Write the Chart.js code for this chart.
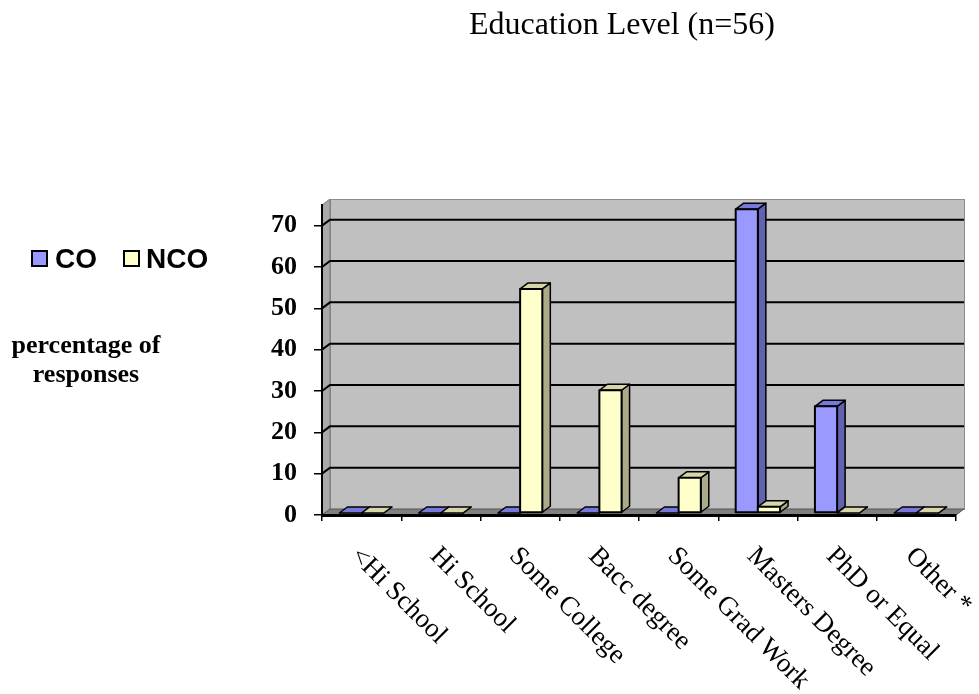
<!DOCTYPE html>
<html>
<head>
<meta charset="utf-8">
<script src="https://cdn.jsdelivr.net/npm/chart.js@4/dist/chart.umd.min.js"></script>
<style>
  html, body { margin: 0; padding: 0; background: #ffffff; }
  canvas { display: block; }
</style>
</head>
<body>
<canvas id="chart" width="979" height="694"></canvas>
<script>
// ---- data ----
const titleText = 'Education Level (n=56)';
const categories = ['<Hi School', 'Hi School', 'Some College', 'Bacc degree',
                    'Some Grad Work', 'Masters Degree', 'PhD or Equal', 'Other *'];
const seriesNames = ['CO', 'NCO'];
const coValues  = [0, 0, 0,    0,    0,   73.5, 25.8, 0];
const ncoValues = [0, 0, 54.2, 29.7, 8.5, 1.5,  0,    0];
const yTicks = [0, 10, 20, 30, 40, 50, 60, 70];
const yAxisTitle = ['percentage of', 'responses'];

// ---- look ----
const DEPTH_X = 8, DEPTH_Y = -6;   // 3-D depth offset of walls and columns
const LIFT = -2;                   // columns stand a little behind the front edge
const faces = [
  { front: '#9999FF', top: '#7777DD', side: '#6262B2' },
  { front: '#FFFFCC', top: '#D6D6AA', side: '#ABAB8A' }
];
const SERIF = '"Liberation Serif", "Times New Roman", serif';
const SANS = '"Liberation Sans", Arial, sans-serif';

function poly(ctx, pts, fill, stroke, lw) {
  ctx.beginPath();
  ctx.moveTo(pts[0][0], pts[0][1]);
  for (let i = 1; i < pts.length; i++) ctx.lineTo(pts[i][0], pts[i][1]);
  ctx.closePath();
  if (fill) { ctx.fillStyle = fill; ctx.fill(); }
  if (stroke) { ctx.strokeStyle = stroke; ctx.lineWidth = lw; ctx.stroke(); }
}

const box3d = {
  id: 'box3d',
  beforeDraw(chart) {
    const { ctx, chartArea: a, scales: { y } } = chart;
    ctx.save();
    // back wall
    ctx.fillStyle = '#C0C0C0';
    ctx.fillRect(a.left + DEPTH_X, a.top + DEPTH_Y, a.right - a.left, a.bottom - a.top);
    ctx.strokeStyle = '#8C8C8C';
    ctx.lineWidth = 1;
    ctx.strokeRect(a.left + DEPTH_X + 0.5, a.top + DEPTH_Y + 0.5, a.right - a.left, a.bottom - a.top);
    // left side wall
    poly(ctx, [[a.left, a.top], [a.left + DEPTH_X, a.top + DEPTH_Y],
               [a.left + DEPTH_X, a.bottom + DEPTH_Y], [a.left, a.bottom]], '#A9A9A9', '#7A7A7A', 1);
    // floor
    poly(ctx, [[a.left, a.bottom], [a.left + DEPTH_X, a.bottom + DEPTH_Y],
               [a.right + DEPTH_X, a.bottom + DEPTH_Y], [a.right, a.bottom]], '#808080', '#555555', 1);
    // gridlines across side wall and back wall
    ctx.strokeStyle = '#000000';
    ctx.lineWidth = 2;
    yTicks.forEach(v => {
      if (v === 0) return;
      const py = y.getPixelForValue(v);
      ctx.beginPath();
      ctx.moveTo(a.left, py);
      ctx.lineTo(a.left + DEPTH_X, py + DEPTH_Y);
      ctx.lineTo(a.right + DEPTH_X, py + DEPTH_Y);
      ctx.stroke();
    });
    ctx.restore();
  },
  beforeDatasetsDraw(chart) {
    chart.ctx.save();
    chart.ctx.translate(0, LIFT);
  },
  afterDatasetsDraw(chart) {
    const ctx = chart.ctx;
    const metas = [0, 1].map(i => chart.getDatasetMeta(i));
    ctx.lineJoin = 'round';
    for (let j = 0; j < categories.length; j++) {
      metas.forEach((meta, d) => {
        const bar = meta.data[j];
        const { x, y, base, width } = bar.getProps(['x', 'y', 'base', 'width'], true);
        const l = x - width / 2, r = x + width / 2;
        const c = faces[d];
        poly(ctx, [[r, y], [r + DEPTH_X, y + DEPTH_Y], [r + DEPTH_X, base + DEPTH_Y], [r, base]],
             c.side, '#000000', 1.5);
        poly(ctx, [[l, y], [l + DEPTH_X, y + DEPTH_Y], [r + DEPTH_X, y + DEPTH_Y], [r, y]],
             c.top, '#000000', 1.5);
        if (base - y > 0.5) {
          poly(ctx, [[l, y], [r, y], [r, base], [l, base]], c.front, '#000000', 2);
        }
      });
    }
    ctx.restore();
  },
  afterDraw(chart) {
    const { ctx, scales: { x } } = chart;
    ctx.save();
    ctx.fillStyle = '#000000';

    // title
    ctx.font = '32px ' + SERIF;
    ctx.textAlign = 'center';
    ctx.textBaseline = 'alphabetic';
    ctx.fillText(titleText, 622, 34);

    // legend
    const legend = [{ bx: 32, tx: 55 }, { bx: 124, tx: 146 }];
    ctx.font = 'bold 28px ' + SANS;
    ctx.textAlign = 'left';
    seriesNames.forEach((name, i) => {
      ctx.fillStyle = faces[i].front;
      ctx.fillRect(legend[i].bx, 251, 15, 15);
      ctx.strokeStyle = '#000000';
      ctx.lineWidth = 2;
      ctx.strokeRect(legend[i].bx, 251, 15, 15);
      ctx.fillStyle = '#000000';
      ctx.fillText(name, legend[i].tx, 268);
    });

    // value axis title
    ctx.font = 'bold 26px ' + SERIF;
    ctx.textAlign = 'center';
    ctx.fillText(yAxisTitle[0], 86, 353);
    ctx.fillText(yAxisTitle[1], 86, 382);

    // category labels, slanted downwards
    ctx.font = '27px ' + SERIF;
    ctx.textAlign = 'left';
    categories.forEach((label, i) => {
      const px = x.getPixelForValue(i);
      ctx.save();
      ctx.translate(px - 12, 557);
      ctx.rotate(Math.PI / 4);
      ctx.fillText(label, 0, 0);
      ctx.restore();
    });
    ctx.restore();
  }
};

new Chart(document.getElementById('chart'), {
  type: 'bar',
  data: {
    labels: categories,
    datasets: [
      { label: seriesNames[0], data: coValues, backgroundColor: faces[0].front,
        borderColor: '#000000', borderWidth: 2 },
      { label: seriesNames[1], data: ncoValues, backgroundColor: faces[1].front,
        borderColor: '#000000', borderWidth: 2 }
    ]
  },
  options: {
    responsive: false,
    animation: false,
    events: [],
    layout: { padding: { top: 205, right: 23, left: 0, bottom: 0 } },
    datasets: { bar: { categoryPercentage: 0.56, barPercentage: 1.0 } },
    plugins: { legend: { display: false }, title: { display: false }, tooltip: { enabled: false } },
    scales: {
      x: {
        grid: { display: true, offset: true, drawOnChartArea: false, drawTicks: true,
                tickLength: 6, color: '#000000', lineWidth: 1.5 },
        border: { display: true, color: '#000000', width: 3 },
        ticks: { display: false },
        afterFit(scale) { scale.height = 179; }
      },
      y: {
        min: 0,
        max: 75,
        ticks: { stepSize: 10, padding: 17, color: '#000000',
                 font: { family: 'Liberation Serif', size: 26, weight: 'bold' } },
        afterBuildTicks(scale) {
          scale.ticks = yTicks.map(v => ({ value: v }));
        },
        grid: { display: true, drawOnChartArea: false, drawTicks: true,
                tickLength: 8, color: '#000000', lineWidth: 1.5 },
        border: { display: true, color: '#000000', width: 2 },
        afterFit(scale) { scale.width = 322; }
      }
    }
  },
  plugins: [box3d]
});
</script>
</body>
</html>
